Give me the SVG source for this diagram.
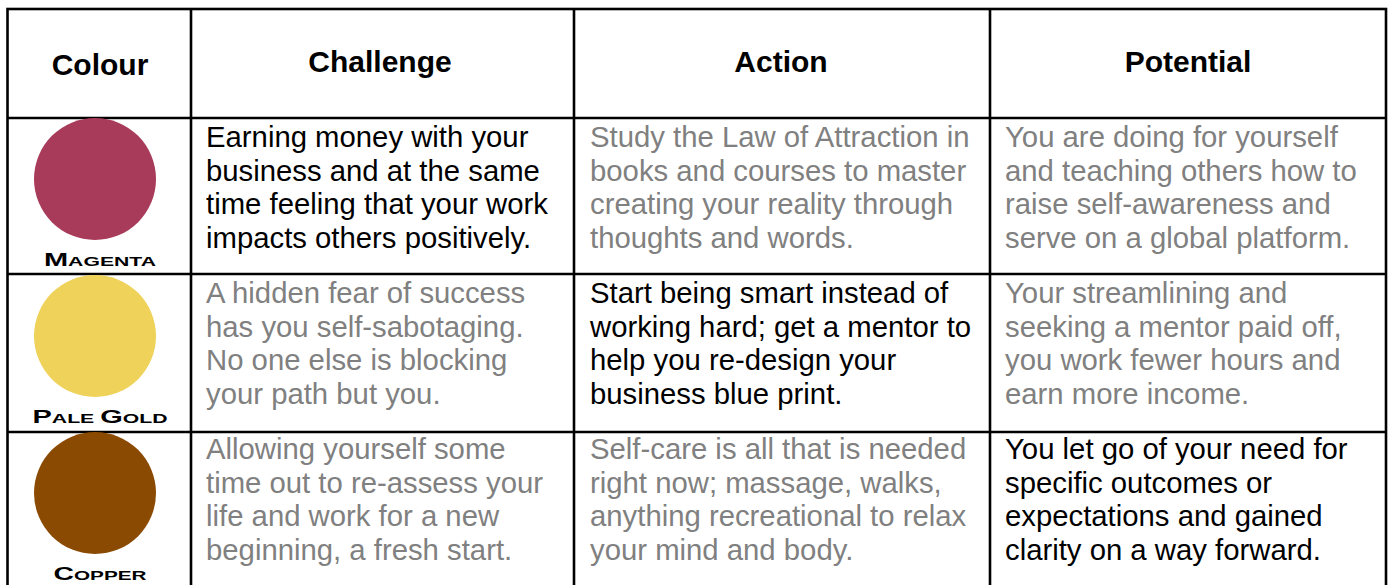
<svg xmlns="http://www.w3.org/2000/svg" width="1392" height="585" viewBox="0 0 1392 585">
<style>
.grid{stroke:#000;stroke-width:2.6;fill:none}
.h{font-family:"Liberation Sans",Arial,sans-serif;font-weight:bold;font-size:30px;fill:#000;text-anchor:middle}
.t{font-family:"Liberation Sans",Arial,sans-serif;font-size:29.3px}
.k{fill:#000}
.g{fill:#808080}
.lbl{font-family:"Liberation Sans",Arial,sans-serif;font-weight:bold;font-size:13px;fill:#000;text-anchor:middle}
.big{font-size:17.8px}
</style>
<rect width="1392" height="585" fill="#fff"/>
<g id="grid">
<rect class="grid" x="7.5" y="9" width="1378.5" height="590"/>
<line class="grid" x1="7.5" y1="118" x2="1386" y2="118"/>
<line class="grid" x1="7.5" y1="274" x2="1386" y2="274"/>
<line class="grid" x1="7.5" y1="432" x2="1386" y2="432"/>
<line class="grid" x1="191" y1="9" x2="191" y2="590"/>
<line class="grid" x1="574" y1="9" x2="574" y2="590"/>
<line class="grid" x1="990" y1="9" x2="990" y2="590"/>
</g>
<g id="header">
<text class="h" x="100" y="75">Colour</text>
<text class="h" x="380" y="72">Challenge</text>
<text class="h" x="781" y="72">Action</text>
<text class="h" x="1188" y="72">Potential</text>
</g>
<g id="magenta">
<circle cx="95" cy="179" r="61" fill="#a83a5a"/>
<text class="lbl" x="100" y="266" textLength="112" lengthAdjust="spacingAndGlyphs"><tspan class="big">M</tspan>AGENTA</text>
</g>
<g id="pale-gold">
<circle cx="95" cy="336" r="61" fill="#efd25a"/>
<text class="lbl" x="100" y="423" textLength="135" lengthAdjust="spacingAndGlyphs"><tspan class="big">P</tspan>ALE <tspan class="big">G</tspan>OLD</text>
</g>
<g id="copper">
<circle cx="95" cy="493" r="61" fill="#8b4a02"/>
<text class="lbl" x="100" y="580" textLength="93" lengthAdjust="spacingAndGlyphs"><tspan class="big">C</tspan>OPPER</text>
</g>
<g id="row1">
<text class="t k" x="206" y="147"><tspan x="206" dy="0">Earning money with your</tspan><tspan x="206" dy="33.5">business and at the same</tspan><tspan x="206" dy="33.5">time feeling that your work</tspan><tspan x="206" dy="33.5">impacts others positively.</tspan></text>
<text class="t g" x="590" y="147"><tspan x="590" dy="0">Study the Law of Attraction in</tspan><tspan x="590" dy="33.5">books and courses to master</tspan><tspan x="590" dy="33.5">creating your reality through</tspan><tspan x="590" dy="33.5">thoughts and words.</tspan></text>
<text class="t g" x="1005" y="147"><tspan x="1005" dy="0">You are doing for yourself</tspan><tspan x="1005" dy="33.5">and teaching others how to</tspan><tspan x="1005" dy="33.5">raise self-awareness and</tspan><tspan x="1005" dy="33.5">serve on a global platform.</tspan></text>
</g>
<g id="row2">
<text class="t g" x="206" y="303"><tspan x="206" dy="0">A hidden fear of success</tspan><tspan x="206" dy="33.5">has you self-sabotaging.</tspan><tspan x="206" dy="33.5">No one else is blocking</tspan><tspan x="206" dy="33.5">your path but you.</tspan></text>
<text class="t k" x="590" y="303"><tspan x="590" dy="0">Start being smart instead of</tspan><tspan x="590" dy="33.5">working hard; get a mentor to</tspan><tspan x="590" dy="33.5">help you re-design your</tspan><tspan x="590" dy="33.5">business blue print.</tspan></text>
<text class="t g" x="1005" y="303"><tspan x="1005" dy="0">Your streamlining and</tspan><tspan x="1005" dy="33.5">seeking a mentor paid off,</tspan><tspan x="1005" dy="33.5">you work fewer hours and</tspan><tspan x="1005" dy="33.5">earn more income.</tspan></text>
</g>
<g id="row3">
<text class="t g" x="206" y="459"><tspan x="206" dy="0">Allowing yourself some</tspan><tspan x="206" dy="33.5">time out to re-assess your</tspan><tspan x="206" dy="33.5">life and work for a new</tspan><tspan x="206" dy="33.5">beginning, a fresh start.</tspan></text>
<text class="t g" x="590" y="459"><tspan x="590" dy="0">Self-care is all that is needed</tspan><tspan x="590" dy="33.5">right now; massage, walks,</tspan><tspan x="590" dy="33.5">anything recreational to relax</tspan><tspan x="590" dy="33.5">your mind and body.</tspan></text>
<text class="t k" x="1005" y="459"><tspan x="1005" dy="0">You let go of your need for</tspan><tspan x="1005" dy="33.5">specific outcomes or</tspan><tspan x="1005" dy="33.5">expectations and gained</tspan><tspan x="1005" dy="33.5">clarity on a way forward.</tspan></text>
</g>
</svg>
